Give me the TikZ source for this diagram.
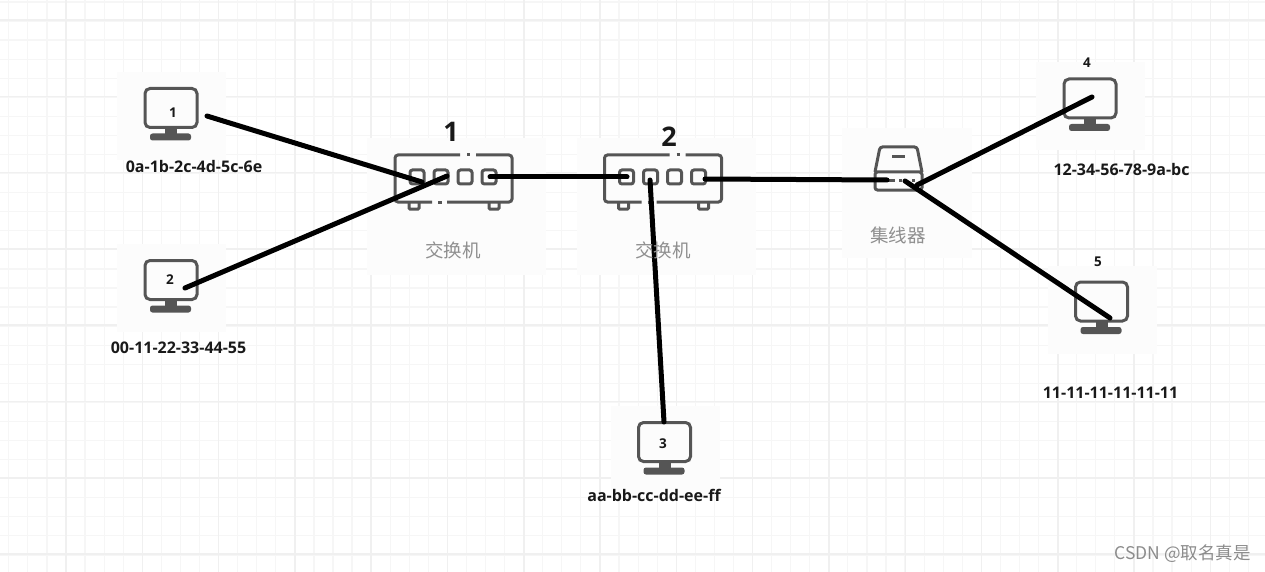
\documentclass[tikz,border=0pt]{standalone}
\usepackage{fontspec}
\setmainfont{Open Sans}
\newfontfamily\cjkfont{Noto Sans CJK SC}
\definecolor{icon}{HTML}{555555}
\definecolor{panel}{HTML}{FCFCFC}
\definecolor{gridminor}{HTML}{F6F6F6}
\definecolor{gridmajor}{HTML}{F0F0F0}
\definecolor{caption}{HTML}{8F8F8F}
\tikzset{
  x=1pt,y=-1pt,
  iconline/.style={draw=icon,line width=3pt,fill=none},
  wire/.style={draw=black,line width=5pt,line cap=round},
  addr/.style={font=\bfseries\fontsize{16}{18}\selectfont,text=black!90,inner sep=0pt},
  num/.style={font=\bfseries\fontsize{13.5}{15}\selectfont,text=black!90,inner sep=0pt},
  bignum/.style={font=\bfseries\fontsize{27}{29}\selectfont,text=black!90,inner sep=0pt},
  captext/.style={font=\cjkfont\fontsize{18.5}{20}\selectfont,text=caption,inner sep=0pt},
  monitor/.pic={
    \fill[panel] (-54,-36) rectangle (55,52);
    \draw[iconline,rounded corners=5pt] (-26,-19.5) rectangle (26,19.5);
    \fill[icon] (-6,20) rectangle (6,26);
    \fill[icon,rounded corners=2.5pt] (-21,25.5) rectangle (20,32.5);
    \coordinate (-c) at (0,0);
  },
  switchbox/.pic={
    \fill[panel] (-87,-17) rectangle (92,120);
    \draw[iconline,rounded corners=3pt] (6,0) -- (-59,0) -- (-59,47) -- (-22,47);
    \draw[iconline,rounded corners=3pt] (-7,47) -- (58,47) -- (58,0) -- (22,0);
    \draw[icon,line width=3pt] (13,0) -- (16,0);
    \draw[icon,line width=3pt] (-16,47) -- (-12,47);
    \foreach \px/\pn in {-37/1,-13/2,11/3,35/4}{
      \draw[iconline,rounded corners=2.5pt] (\px-7,15) rectangle (\px+7,29);
      \coordinate (-p\pn) at (\px,22);
    }
    \draw[iconline,rounded corners=1pt] (-45,48) -- (-45,54) -- (-35,54) -- (-35,48);
    \draw[iconline,rounded corners=1pt] (35,48) -- (35,54) -- (45,54) -- (45,48);
  },
}
\begin{document}
\begin{tikzpicture}
\useasboundingbox (0,0) rectangle (1265,572);
\fill[white] (0,0) rectangle (1265,572);
% grid
\foreach \k in {-3,...,63}{
  \draw[gridminor,line width=1.2pt] ({66+19.07*\k},0) -- ({66+19.07*\k},572);
}
\foreach \k in {-1,...,29}{
  \draw[gridminor,line width=1.2pt] (0,{21+19.07*\k}) -- (1265,{21+19.07*\k});
}
\foreach \k in {0,...,15}{
  \draw[gridmajor,line width=1.5pt] ({66+76.3*\k},0) -- ({66+76.3*\k},572);
}
\foreach \k in {0,...,7}{
  \draw[gridmajor,line width=1.5pt] (0,{20+76.3*\k}) -- (1265,{20+76.3*\k});
}
% devices
\pic (pc1) at (171,108) {monitor};
\pic (pc2) at (171,280) {monitor};
\pic (pc3) at (664.5,442) {monitor};
\pic (pc4) at (1090,98.5) {monitor};
\pic (pc5) at (1101.5,301.5) {monitor};
\pic (swa) at (454,155) {switchbox};
\pic (swb) at (663.5,155) {switchbox};
% hub
\fill[panel] (842,128) rectangle (972,258);
\draw[iconline,rounded corners=2.5pt] (875,172) -- (880,147) -- (917,147) -- (922,172);
\draw[iconline,rounded corners=2.5pt] (875,172) rectangle (922,190);
\draw[icon,line width=3pt] (892,157) -- (905,157);
\draw[icon,line width=3pt] (885,181) -- (895,181);
\draw[icon,line width=3pt] (899,181) -- (902,181);
\draw[icon,line width=3pt] (912,181) -- (915,181);
\coordinate (hubin) at (887,180);
\coordinate (hubupper) at (917,185);
\coordinate (hublower) at (905,181);
% free wire ends
\coordinate (pc1end) at (207,116);
\coordinate (pc2end) at (185,288);
\coordinate (pc3end) at (664,422);
\coordinate (pc4end) at (1092,97);
\coordinate (pc5end) at (1110,318);
\coordinate (swaleft) at (422,182);
\coordinate (swamid) at (447,176);
\coordinate (swaright) at (490,177);
\coordinate (swbleft) at (627,177);
\coordinate (swbdown) at (650,180);
\coordinate (swbright) at (705,179);
% wires
\draw[wire] (pc1end) -- (swaleft);
\draw[wire] (pc2end) -- (swamid);
\draw[wire] (swaright) -- (swbleft);
\draw[wire] (swbdown) -- (pc3end);
\draw[wire] (swbright) -- (hubin);
\draw[wire] (hubupper) -- (pc4end);
\draw[wire] (hublower) -- (pc5end);
% labels
\node[num] (n1) at (173,112.5) {1};
\node[num] (n2) at (170,279.5) {2};
\node[num] (n3) at (663,443.5) {3};
\node[num] (n4) at (1087,62.5) {4};
\node[num] (n5) at (1098,261.5) {5};
\node[bignum] (s1) at (451,132) {1};
\node[bignum] (s2) at (669,137) {2};
\node[captext] (c1) at (453,250) {交换机};
\node[captext] (c2) at (663,250) {交换机};
\node[captext] (c3) at (898,235) {集线器};
\node[addr] (a1) at (194,166.5) {0a-1b-2c-4d-5c-6e};
\node[addr] (a2) at (178.5,347.5) {00-11-22-33-44-55};
\node[addr] (a3) at (654,495.5) {aa-bb-cc-dd-ee-ff};
\node[addr] (a4) at (1121.5,169.5) {12-34-56-78-9a-bc};
\node[addr] (a5) at (1110.5,392.5) {11-11-11-11-11-11};
\node[font=\cjkfont\fontsize{17.5}{19}\selectfont,text=black!45,inner sep=0pt] (mark) at (1182.5,554) {CSDN @取名真是};
\end{tikzpicture}
\end{document}
